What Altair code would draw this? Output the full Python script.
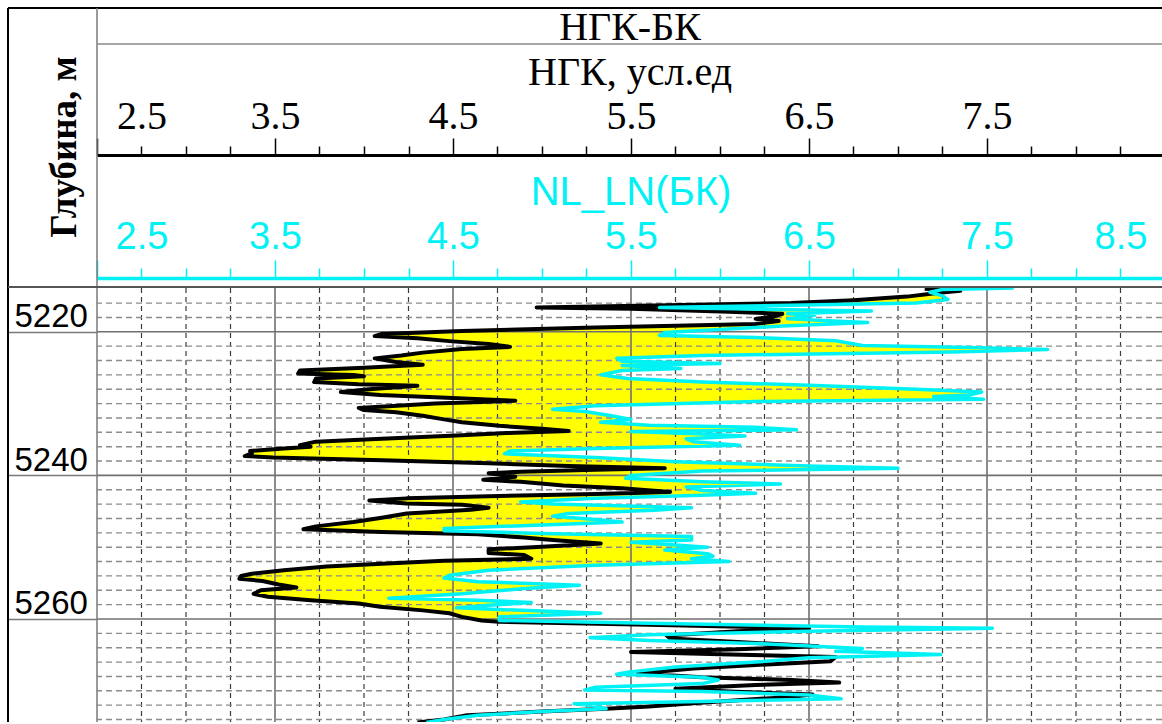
import altair as alt
import pandas as pd

# ---------------- data ----------------
ngk_depth = [5214.0, 5214.3, 5214.6, 5215.1, 5215.6, 5216.0, 5216.3, 5216.6, 5216.8, 5217.2,
             5217.5, 5217.9, 5218.2, 5218.5, 5218.9, 5219.4, 5219.9, 5220.3, 5220.6, 5220.9,
             5221.3, 5221.7, 5222.1, 5222.4, 5222.9, 5223.3, 5223.7, 5224.2, 5224.6, 5225.0,
             5225.4, 5225.8, 5226.0, 5226.2, 5226.5, 5227.0, 5227.3, 5227.5, 5228.0, 5228.4,
             5228.8, 5229.1, 5229.6, 5230.0, 5230.6, 5230.9, 5231.2, 5231.7, 5232.2, 5232.6,
             5233.1, 5233.5, 5233.8, 5234.1, 5234.4, 5234.9, 5235.3, 5235.8, 5236.0, 5236.25,
             5236.6, 5236.95, 5237.3, 5237.5, 5237.9, 5238.3, 5238.7, 5239.0, 5239.2, 5239.5,
             5239.7, 5240.2, 5240.6, 5240.9, 5241.4, 5241.8, 5242.3, 5242.6, 5242.9, 5243.2,
             5243.5, 5243.9, 5244.1, 5244.5, 5244.8, 5245.3, 5245.9, 5246.5, 5247.1, 5247.5,
             5247.9, 5248.2, 5248.65, 5249.0, 5249.5, 5249.95, 5250.3, 5250.8, 5251.1, 5251.6,
             5251.9, 5252.3, 5252.7, 5253.2, 5253.7, 5254.0, 5254.4, 5254.7, 5255.2, 5255.6,
             5256.0, 5256.5, 5256.9, 5257.4, 5257.85, 5258.3, 5258.8, 5259.2, 5259.7, 5260.2,
             5260.4, 5260.8, 5261.3, 5261.7, 5262.3, 5262.7, 5263.2, 5263.8, 5264.2, 5264.6,
             5264.9, 5265.3, 5265.9, 5266.4, 5266.9, 5267.6, 5268.1, 5268.5, 5268.85, 5269.2,
             5269.7, 5270.1, 5270.5, 5270.85, 5271.3, 5271.8, 5272.2, 5272.5, 5272.9, 5273.4,
             5274.0, 5274.4]
ngk_value = [7.15, 7.35, 7.22, 7.05, 6.75, 6.40, 5.70, 4.97, 5.50, 6.05,
             6.35, 6.30, 6.20, 6.33, 6.20, 5.30, 4.55, 4.10, 4.06, 4.30,
             4.48, 4.70, 4.82, 4.55, 4.33, 4.21, 4.06, 4.18, 4.33, 4.00,
             3.64, 3.63, 3.94, 4.00, 3.73, 3.72, 3.97, 4.30, 4.03, 3.87,
             4.09, 4.40, 4.85, 4.40, 3.97, 4.00, 4.18, 4.33, 4.45, 4.55,
             4.76, 5.00, 5.15, 4.80, 4.55, 4.10, 3.73, 3.64, 3.70, 3.55,
             3.36, 3.37, 3.33, 3.49, 4.10, 4.70, 5.15, 5.69, 5.30, 4.88,
             4.70, 4.85, 4.67, 4.88, 5.12, 5.45, 5.72, 5.30, 4.70, 4.24,
             4.03, 4.24, 4.55, 4.70, 4.60, 4.24, 4.10, 3.94, 3.73, 3.66,
             4.10, 4.64, 4.90, 5.06, 5.33, 5.00, 4.70, 4.70, 4.90, 4.94,
             4.45, 4.10, 3.79, 3.55, 3.37, 3.31, 3.30, 3.43, 3.52, 3.62,
             3.42, 3.38, 3.46, 3.70, 3.97, 4.09, 4.33, 4.48, 4.55, 4.66,
             4.76, 5.60, 6.50, 6.10, 5.70, 5.72, 6.10, 6.55, 6.10, 5.50,
             6.00, 6.65, 6.62, 6.20, 5.85, 5.54, 5.90, 6.40, 6.67, 6.20,
             5.75, 6.05, 6.52, 6.40, 6.10, 5.81, 5.60, 5.36, 5.00, 4.58,
             4.45, 4.30]

bk_depth = [5213.9, 5214.1, 5214.5, 5215.0, 5215.5, 5216.0, 5216.3, 5216.6, 5216.9, 5217.1,
            5217.5, 5217.7, 5218.2, 5218.7, 5219.2, 5219.6, 5220.1, 5220.5, 5220.8, 5221.25,
            5221.9, 5222.2, 5222.45, 5222.8, 5223.3, 5223.7, 5224.1, 5224.4, 5224.7, 5225.1,
            5225.4, 5226.0, 5226.5, 5227.0, 5227.45, 5228.0, 5228.4, 5228.8, 5229.0, 5229.4,
            5229.7, 5230.3, 5230.8, 5231.1, 5231.7, 5232.2, 5232.6, 5233.0, 5233.3, 5233.65,
            5233.9, 5234.25, 5234.5, 5234.9, 5235.3, 5235.8, 5236.25, 5236.6, 5237.0, 5237.5,
            5238.1, 5238.7, 5239.0, 5239.4, 5240.0, 5240.4, 5240.9, 5241.2, 5241.6, 5242.1,
            5242.5, 5242.75, 5243.2, 5243.7, 5244.0, 5244.5, 5244.85, 5245.3, 5245.7, 5246.15,
            5246.5, 5246.9, 5247.4, 5247.7, 5248.1, 5248.5, 5249.0, 5249.3, 5249.7, 5250.0,
            5250.4, 5250.9, 5251.25, 5251.6, 5252.0, 5252.5, 5253.2, 5253.9, 5254.3, 5254.8,
            5255.3, 5255.8, 5256.5, 5257.1, 5257.4, 5257.7, 5258.1, 5258.45, 5258.9, 5259.2,
            5259.7, 5260.2, 5260.6, 5261.1, 5261.3, 5261.7, 5262.2, 5262.6, 5263.0, 5263.4,
            5264.1, 5264.5, 5264.95, 5265.4, 5266.0, 5266.7, 5267.4, 5267.7, 5268.1, 5268.5,
            5269.0, 5269.5, 5269.9, 5270.1, 5270.6, 5271.1, 5271.5, 5271.8, 5272.1, 5272.5,
            5272.9, 5273.4, 5274.0, 5274.4]
bk_value = [7.65, 7.25, 7.18, 7.25, 7.28, 7.10, 6.40, 5.66, 6.30, 6.85,
            6.38, 6.53, 6.38, 6.83, 6.35, 6.05, 5.69, 5.66, 6.20, 6.65,
            6.80, 7.40, 7.84, 7.30, 5.90, 5.42, 5.45, 6.00, 5.45, 5.78,
            5.45, 5.33, 5.48, 5.90, 6.50, 7.10, 7.47, 7.40, 7.20, 7.48,
            6.20, 5.30, 5.06, 5.24, 5.39, 5.50, 5.33, 5.60, 6.20, 6.43,
            5.50, 5.90, 6.14, 5.81, 5.85, 6.11, 5.30, 4.82, 4.79, 5.30,
            5.75, 6.50, 7.00, 5.90, 5.50, 5.47, 5.90, 6.34, 5.81, 5.90,
            6.20, 5.90, 5.30, 4.88, 5.06, 5.84, 5.63, 5.15, 5.06, 5.30,
            5.45, 5.00, 4.45, 4.45, 5.00, 5.84, 5.84, 5.50, 5.75, 5.93,
            5.69, 5.93, 5.96, 5.84, 6.05, 5.30, 4.70, 4.48, 4.45, 4.64,
            5.21, 4.88, 4.55, 4.14, 4.64, 4.94, 4.70, 4.52, 5.00, 5.33,
            4.76, 4.76, 5.60, 6.80, 7.53, 6.50, 5.60, 5.27, 5.60, 6.20,
            6.80, 6.65, 7.24, 6.50, 6.20, 5.75, 5.48, 5.42, 5.90, 5.99,
            5.90, 5.30, 5.24, 5.90, 6.50, 6.68, 5.90, 5.18, 5.30, 5.36,
            5.00, 4.64, 4.45, 4.35]

FILL_END_DEPTH = 5260.4          # yellow shading stops here

grid_depth_major = [5220, 5240, 5260]
grid_depth_minor = [5216, 5218, 5222, 5224, 5226, 5228, 5230, 5232, 5234, 5236, 5238,
                    5242, 5244, 5246, 5248, 5250, 5252, 5254, 5256, 5258,
                    5262, 5264, 5266, 5268, 5270, 5272, 5274]
grid_x_major = [3.5, 4.5, 5.5, 6.5, 7.5]
grid_x_minor = [2.75, 3.0, 3.25, 3.75, 4.0, 4.25, 4.75, 5.0, 5.25, 5.75, 6.0, 6.25,
                6.75, 7.0, 7.25, 7.75, 8.0, 8.25]
tick_major = [2.5, 3.5, 4.5, 5.5, 6.5, 7.5]
tick_minor = grid_x_minor
ngk_label_pos = [2.75, 3.5, 4.5, 5.5, 6.5, 7.5]
ngk_label_txt = ["2.5", "3.5", "4.5", "5.5", "6.5", "7.5"]
bk_label_pos = [2.75, 3.5, 4.5, 5.5, 6.5, 7.5, 8.25]
bk_label_txt = ["2.5", "3.5", "4.5", "5.5", "6.5", "7.5", "8.5"]

# ---------------- layout ----------------
W, H = 1065, 434
PAD_L, PAD_T = 97, 288
PX_PER_UNIT = 178.0
X_MIN = 2.5
X_MAX = X_MIN + W / PX_PER_UNIT
PX_PER_M = 7.18
D_TOP = 5213.9
D_BOT = D_TOP + H / PX_PER_M

CYAN = "#00F2F5"
SERIF = "Liberation Serif"
SANS = "Liberation Sans"

xs = alt.Scale(domain=[X_MIN, X_MAX], nice=False, zero=False)
ys = alt.Scale(domain=[D_TOP, D_BOT], nice=False, zero=False, reverse=True)


def label_expr(pos, txt):
    expr = "''"
    for p, t in reversed(list(zip(pos, txt))):
        expr = f"abs(datum.value - {p}) < 0.001 ? '{t}' : {expr}"
    return expr


def label_axis(offset, pos, txt, color, font, size, pad, dwidth):
    return alt.Axis(orient="top", offset=offset, values=pos, labelExpr=label_expr(pos, txt),
                    ticks=True, tickSize=0, tickOpacity=0, domain=True, domainColor=color,
                    domainWidth=dwidth, labelFont=font, labelFontSize=size, labelColor=color,
                    labelPadding=pad, labelBaseline="alphabetic", labelFlush=False,
                    labelOverlap=False, grid=False, title=None)


def tick_axis(offset, values, color, size):
    return alt.Axis(orient="top", offset=offset, values=values, labels=False, domain=False,
                    ticks=True, tickSize=size, tickWidth=1.5, tickColor=color, grid=False,
                    title=None)


ax_ngk_labels = label_axis(133, ngk_label_pos, ngk_label_txt, "black", SERIF, 40, 27, 3)
ax_ngk_major = tick_axis(133, tick_major, "black", 17)
ax_ngk_minor = tick_axis(133, tick_minor, "black", 9)
ax_bk_labels = label_axis(10, bk_label_pos, bk_label_txt, CYAN, SANS, 38, 30, 3.5)
ax_bk_major = tick_axis(10, tick_major, CYAN, 18)
ax_bk_minor = tick_axis(10, tick_minor, CYAN, 10)
ax_depth = alt.Axis(orient="left", values=grid_depth_major, format="d", domain=False,
                    ticks=True, tickSize=89, tickColor="#7a7a7a", tickWidth=1.5,
                    labelAlign="left", labelPadding=-6, labelBaseline="alphabetic",
                    labelOffset=-5, labelFont=SANS, labelFontSize=33, labelColor="black",
                    labelFlush=False, labelOverlap=False, grid=False, title=None)

ngk_df = pd.DataFrame({"depth": ngk_depth, "v": ngk_value})
ngk_df["i"] = range(len(ngk_df))
bk_df = pd.DataFrame({"depth": bk_depth, "v": bk_value})
bk_df["i"] = range(len(bk_df))
fill_df = ngk_df[ngk_df["depth"] <= FILL_END_DEPTH]

yellow = alt.Chart(fill_df).mark_area(orient="horizontal", color="#FFFF00", clip=True).encode(
    y=alt.Y("depth:Q", scale=ys, axis=None),
    x=alt.X("v:Q", scale=xs, axis=ax_ngk_labels),
    x2=alt.datum(X_MAX),
)
white = alt.Chart(bk_df).mark_area(orient="horizontal", color="white", clip=True).encode(
    y=alt.Y("depth:Q", scale=ys, axis=None),
    x=alt.X("v:Q", scale=xs, axis=ax_ngk_major),
    x2=alt.datum(X_MAX),
)
vmaj = alt.Chart(pd.DataFrame({"g": grid_x_major})).mark_rule(
    color="#707070", strokeWidth=1.6).encode(x=alt.X("g:Q", scale=xs, axis=ax_ngk_minor))
vmin = alt.Chart(pd.DataFrame({"g": grid_x_minor})).mark_rule(
    color="#3c3c3c", strokeWidth=1.2, strokeDash=[5, 4]).encode(
    x=alt.X("g:Q", scale=xs, axis=ax_bk_labels))
hmaj = alt.Chart(pd.DataFrame({"d": grid_depth_major})).mark_rule(
    color="#707070", strokeWidth=1.6).encode(y=alt.Y("d:Q", scale=ys, axis=ax_depth))
hmin = alt.Chart(pd.DataFrame({"d": grid_depth_minor})).mark_rule(
    color="#8c8c8c", strokeWidth=1.4, strokeDash=[6, 4]).encode(
    y=alt.Y("d:Q", scale=ys, axis=None))
black_line = alt.Chart(ngk_df).mark_line(
    color="black", strokeWidth=4, strokeJoin="round", clip=True).encode(
    y=alt.Y("depth:Q", scale=ys, axis=None),
    x=alt.X("v:Q", scale=xs, axis=ax_bk_major),
    order="i:Q",
)
cyan_line = alt.Chart(bk_df).mark_line(
    color=CYAN, strokeWidth=3.5, strokeJoin="round", clip=True).encode(
    y=alt.Y("depth:Q", scale=ys, axis=None),
    x=alt.X("v:Q", scale=xs, axis=ax_bk_minor),
    order="i:Q",
)

one = pd.DataFrame({"a": [0]})
frame = [
    alt.Chart(one).mark_rule(color="black", strokeWidth=2).encode(
        x=alt.value(-89), x2=alt.value(W), y=alt.value(-280)),
    alt.Chart(one).mark_rule(color="black", strokeWidth=2).encode(
        x=alt.value(-89), y=alt.value(-280), y2=alt.value(H + 10)),
    alt.Chart(one).mark_rule(color="#7a7a7a", strokeWidth=1.5).encode(
        x=alt.value(0), y=alt.value(-280), y2=alt.value(H)),
    alt.Chart(one).mark_rule(color="#8a8a8a", strokeWidth=1.5).encode(
        x=alt.value(0), x2=alt.value(W), y=alt.value(-244)),
    alt.Chart(one).mark_rule(color="#555555", strokeWidth=2).encode(
        x=alt.value(-89), x2=alt.value(W), y=alt.value(-1)),
]
texts = [
    alt.Chart(one).mark_text(text="НГК-БК", font=SERIF, fontSize=40, align="center",
                             baseline="alphabetic", color="black").encode(
        x=alt.value(533), y=alt.value(-248)),
    alt.Chart(one).mark_text(text="НГК, усл.ед", font=SERIF, fontSize=40, align="center",
                             baseline="alphabetic", color="black").encode(
        x=alt.value(533), y=alt.value(-203)),
    alt.Chart(one).mark_text(text="NL_LN(БК)", font=SANS, fontSize=40, align="center",
                             baseline="alphabetic", color=CYAN).encode(
        x=alt.value(534), y=alt.value(-83)),
    alt.Chart(one).mark_text(text="Глубина, м", font=SERIF, fontSize=37, fontWeight="bold",
                             angle=270, align="center", baseline="middle",
                             color="black").encode(
        x=alt.value(-32), y=alt.value(-141)),
]

chart = alt.layer(
    yellow, white, vmaj, vmin, hmaj, hmin, black_line, cyan_line, *frame, *texts
).resolve_axis(x="independent", y="independent").properties(
    width=W, height=H,
    padding={"left": PAD_L, "top": PAD_T, "right": 0, "bottom": 0},
    autosize=alt.AutoSizeParams(type="none"),
    background="white",
).configure_view(strokeWidth=0)

chart.save("out.html", embed_options={"renderer": "svg", "actions": False})
